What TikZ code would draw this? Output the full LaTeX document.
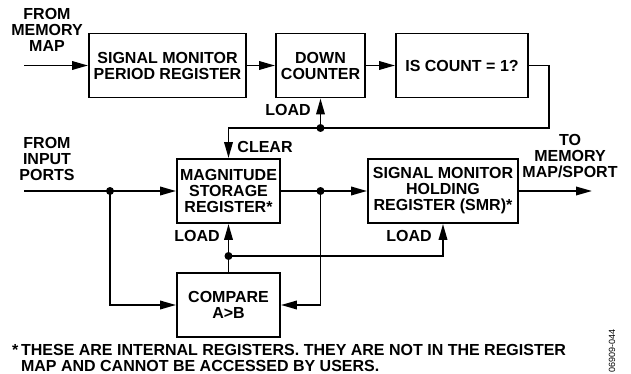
\documentclass[tikz,border=0pt]{standalone}
\usepackage{fontspec}
\setmainfont{Liberation Sans}
\usetikzlibrary{arrows.meta,positioning,calc}

\begin{document}
\begin{tikzpicture}[x=1pt, y=-1pt,
    font=\fontsize{16}{16}\selectfont\bfseries,
    regbox/.style={rectangle, draw, line width=1.9pt, minimum height=64pt,
        align=center, inner sep=2pt},
    lbl/.style={align=center, inner sep=0pt},
    dot/.style={circle, fill, inner sep=0pt, minimum size=8pt},
    wire/.style={line width=1.9pt},
    arr/.style={-{Triangle[length=16pt,width=8.5pt]}, line width=1.9pt}
]
    \useasboundingbox (0,0) rectangle (631,374);

    \node[regbox, minimum width=157pt] (smpr) at (167.5,65.5) {SIGNAL MONITOR\\PERIOD REGISTER};
    \node[regbox, minimum width=89pt] (dcnt) at (320.5,65.5) {DOWN\\COUNTER};
    \node[regbox, minimum width=132pt] (iscnt) at (462,65.5) {IS COUNT = 1?};
    \node[regbox, minimum width=103pt] (msr) at (228.5,191) {MAGNITUDE\\STORAGE\\REGISTER*};
    \node[regbox, minimum width=150pt] (smr) at (443,191) {SIGNAL MONITOR\\HOLDING\\REGISTER (SMR)*};
    \node[regbox, minimum width=103pt] (cmp) at (228.5,305) {COMPARE\\A>B};

    \node[lbl] (frommem) at (47,30) {FROM\\MEMORY\\MAP};
    \node[lbl] (fromin) at (47,159) {FROM\\INPUT\\PORTS};
    \node[lbl] (tomem) at (570,156) {TO\\MEMORY\\MAP/SPORT};
    \node[lbl] (ldcnt) at (288,110) {LOAD};
    \node[lbl] (clr) at (265,147) {CLEAR};
    \node[lbl] (ldmsr) at (197,236) {LOAD};
    \node[lbl] (ldsmr) at (409,236) {LOAD};

    \coordinate (memin) at (24,65.5);
    \coordinate (portin) at (24,191);
    \coordinate (smrout) at (592,191);
    \node[dot] (jload) at (320.5,128) {};
    \node[dot] (jin) at (110,191) {};
    \node[dot] (jout) at (320.5,191) {};
    \node[dot] (jcmp) at (228.5,256) {};

    \draw[arr] (memin) -- (smpr);
    \draw[arr] (smpr) -- (dcnt);
    \draw[arr] (dcnt) -- (iscnt);
    \draw[arr] (iscnt.east) -- ++(20,0) |- (jload.center) -| (msr.north);
    \draw[arr] (jload.center) -- (dcnt.south);

    \draw[arr] (portin) -- (msr.west);
    \draw[arr] (jin.center) |- (cmp.west);
    \draw[arr] (msr) -- (smr);
    \draw[arr] (jout.center) |- (cmp.east);
    \draw[arr] (smr) -- (smrout);

    \draw[wire] (cmp) -- (jcmp.center);
    \draw[arr] (jcmp.center) -- (msr.south);
    \draw[arr] (jcmp.center) -| (smr.south);

    \node[lbl, anchor=north west, align=left] (note) at (12,344)
        {*\,THESE ARE INTERNAL REGISTERS. THEY ARE NOT IN THE REGISTER\\
         \phantom{*\,}MAP AND CANNOT BE ACCESSED BY USERS.};
    \node[rotate=90, inner sep=0pt, font=\fontsize{9}{9}\selectfont] (figno) at (612,351) {06909-044};
\end{tikzpicture}
\end{document}
